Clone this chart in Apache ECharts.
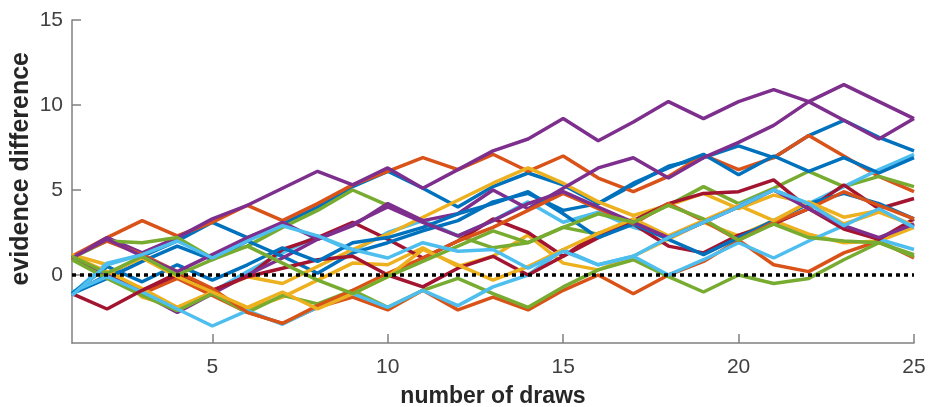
<!DOCTYPE html>
<html><head><meta charset="utf-8">
<script src="https://cdn.jsdelivr.net/npm/echarts@6/dist/echarts.min.js"></script>
<style>html,body{margin:0;padding:0;background:#fff;overflow:hidden}#c{width:930px;height:407px}</style>
</head><body><div id="c"></div>
<script>
var draws = [1,2,3,4,5,6,7,8,9,10,11,12,13,14,15,16,17,18,19,20,21,22,23,24,25];
var xTicks = [5,10,15,20,25];
var yTicks = [0,5,10,15];
var colors = ['#0072BD','#D95319','#EDB120','#7E2F8E','#77AC30','#4DBEEE','#A2142F'];
var L1  = [1.0,2.2,1.3,2.2,3.3,4.1,5.1,6.1,5.3,6.3,5.1,6.2,7.3,8.0,9.2,7.9,9.0,10.2,9.2,10.2,10.9,10.2,9.1,8.0,9.2];
var L2  = [1.1,0.0,-1.1,-2.2,-1.1,0.0,1.0,2.1,2.9,4.2,3.2,3.6,5.0,3.9,5.1,6.3,6.9,5.7,6.9,7.8,8.8,10.2,11.2,10.2,9.2];
var L3  = [1.1,2.2,3.2,2.3,3.1,4.1,3.2,4.2,5.3,6.1,6.9,6.2,7.1,6.1,7.0,5.7,4.9,5.8,7.05,6.2,6.9,8.2,7.0,5.8,4.9];
var L4  = [-1.1,0.0,1.1,2.0,3.1,2.2,3.0,4.0,5.2,6.1,5.1,4.0,5.2,6.0,5.3,4.2,5.3,6.4,6.9,7.6,6.9,8.2,9.1,8.1,7.3];
var L5  = [-1.1,-0.2,0.8,1.7,0.9,2.0,1.1,0.1,1.3,1.9,2.6,3.2,4.3,4.8,3.8,4.2,5.4,6.3,7.1,5.9,7.0,6.1,6.9,6.0,6.9];
var L6  = [-1.1,0.7,1.2,0.1,-1.0,0.2,1.3,2.3,1.4,2.5,3.2,2.3,3.2,4.3,3.1,3.7,2.8,2.25,3.1,4.1,5.0,4.2,5.2,6.2,7.1];
var L7  = [1.0,2.0,1.9,2.2,1.0,1.7,2.8,3.8,5.0,4.1,3.2,2.3,1.6,1.9,2.8,2.4,3.1,4.1,5.2,4.2,5.1,6.1,5.2,5.8,5.2];
var L8  = [1.0,0.0,-0.9,0.1,-0.9,-0.1,1.5,2.2,3.1,2.1,1.0,2.0,3.3,2.5,1.1,2.45,3.0,1.7,1.3,2.35,3.0,3.9,5.3,3.9,4.5];
var L9  = [-1.1,-2.0,-0.9,0.0,-0.9,-0.1,0.4,0.9,1.1,0.0,-0.7,0.4,1.1,0.0,1.1,2.2,3.2,4.2,4.8,4.9,5.6,3.9,2.7,2.1,3.3];
var L10 = [1.2,0.6,-1.3,-1.9,-1.0,-2.0,-1.3,-0.3,0.7,0.6,1.6,0.5,1.1,2.35,0.7,0.3,1.1,2.1,3.1,2.3,3.2,2.4,1.9,2.0,2.8];
var L11 = [1.1,0.2,-0.8,-1.9,-1.0,-0.1,-0.5,0.5,1.5,2.4,3.4,4.4,5.4,6.3,5.4,4.3,3.5,4.1,4.8,3.9,4.7,4.2,3.0,3.7,2.9];
var L12 = [0.9,-0.2,-1.2,-2.1,-1.1,-2.2,-1.2,-1.7,-0.9,-1.9,-0.9,-0.2,-1.1,-1.9,-0.7,0.3,0.9,-0.1,-1.0,0.0,-0.5,-0.2,0.9,1.9,1.1];
var L13 = [1.0,-0.1,-1.1,-0.2,-1.2,-2.2,-2.85,-1.9,-1.3,-2.05,-0.9,-2.05,-1.3,-2.05,-0.9,0.0,-1.1,0.0,0.8,2.05,0.6,0.2,1.3,2.0,1.0];
var L14 = [-1.0,-0.1,-1.0,-2.0,-3.0,-2.1,-2.9,-1.9,-1.1,-1.9,-0.9,-1.8,-0.7,0.0,1.5,0.6,1.1,0.0,0.9,1.9,1.0,2.0,2.9,2.1,1.5];
var L15 = [-1.2,0.6,1.2,2.0,1.0,2.0,2.9,2.3,1.5,1.0,1.9,1.4,1.5,0.4,1.4,0.6,1.1,2.2,3.1,4.0,5.0,4.2,2.9,3.9,2.8];
var L16 = [-1.1,0.5,-0.4,0.6,-0.3,0.6,1.6,0.8,1.9,2.2,2.8,3.6,4.2,4.9,3.6,2.2,3.0,2.1,1.2,2.2,3.2,4.2,4.8,4.2,3.3];
var L17 = [1.1,2.0,1.2,0.2,-0.8,-2.2,-2.85,-1.8,-0.9,0.1,1.0,2.0,2.8,3.8,4.8,3.9,3.0,4.2,3.2,2.05,3.1,3.9,4.9,4.1,3.3];
var L18 = [1.0,2.1,1.1,0.2,1.2,2.2,3.1,2.1,3.0,4.0,3.1,2.3,3.2,4.2,4.9,4.0,3.1,2.2,3.1,4.0,5.0,3.9,2.9,2.2,3.0];
var L19 = [1.1,0.1,1.1,0.0,0.9,1.7,0.7,-0.3,-1.1,-0.1,0.8,1.7,2.6,1.9,2.8,3.6,3.1,4.1,3.3,2.05,3.0,2.2,2.0,1.9,1.2];
var L20 = [1.2,0.1,1.0,-0.1,-1.0,-1.9,-1.0,-2.0,-1.1,-0.1,1.5,0.6,-0.3,0.5,1.5,2.45,3.3,2.3,3.2,4.1,3.2,4.3,3.4,3.8,2.9];
var walks = [L4,L3,L10,L1,L7,L6,L8,L5,L13,L11,L2,L12,L14,L9,L16,L17,L20,L18,L19,L15];
var zeroLine = [0, 0];
var xTitle = 'number of draws';
var yTitle = 'evidence difference';

var series = walks.map(function (w, i) {
  return {
    type: 'line', silent: true, symbol: 'none', animation: false,
    lineStyle: { width: 3.5, color: colors[i % 7] },
    data: draws.map(function (d, k) { return [d, w[k]]; }),
    z: 2
  };
});
series.push({
  type: 'line', silent: true, symbol: 'none', animation: false,
  lineStyle: { width: 3.5, color: '#000', type: [4, 4] },
  data: [[draws[0], zeroLine[0]], [draws[draws.length - 1], zeroLine[1]]],
  z: 5
});

var font = 'Liberation Sans, Arial, Helvetica, sans-serif';
var chart = echarts.init(document.getElementById('c'), null, { renderer: 'canvas' });
chart.setOption({
  animation: false,
  grid: { left: 72, right: 16, top: 20, bottom: 64, containLabel: false, outerBoundsMode: 'none' },
  graphic: [{
    type: 'text', left: 9, top: 52,
    rotation: Math.PI / 2,
    style: { text: yTitle, font: 'bold 25px ' + font, fill: '#262626' },
    silent: true
  }],
  xAxis: {
    type: 'value', min: 1, max: 25,
    name: xTitle, nameLocation: 'middle', nameGap: 42,
    nameTextStyle: { fontFamily: font, fontSize: 23, fontWeight: 'bold', color: '#262626' },
    axisLine: { show: true, onZero: false, lineStyle: { color: '#808080', width: 1.5 } },
    axisTick: { show: true, inside: true, length: 9, lineStyle: { color: '#808080', width: 1.5 }, customValues: xTicks },
    axisLabel: { fontFamily: font, fontSize: 21, color: '#404040', margin: 14, customValues: xTicks },
    splitLine: { show: false }
  },
  yAxis: {
    type: 'value', min: -4, max: 15,
    axisLine: { show: true, onZero: false, lineStyle: { color: '#808080', width: 1.5 } },
    axisTick: { show: true, inside: true, length: 9, lineStyle: { color: '#808080', width: 1.5 }, customValues: yTicks },
    axisLabel: { fontFamily: font, fontSize: 21, color: '#404040', margin: 9, customValues: yTicks },
    splitLine: { show: false }
  },
  series: series
});
</script></body></html>
